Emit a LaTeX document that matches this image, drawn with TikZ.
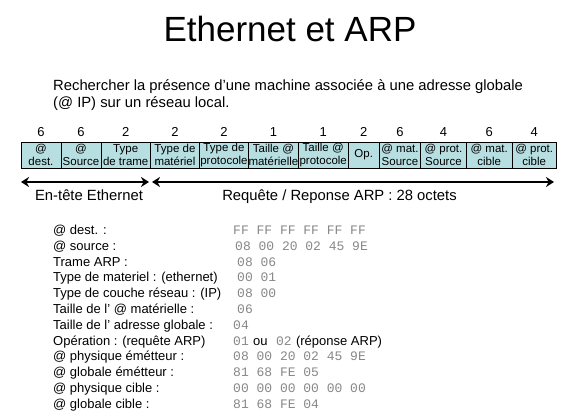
\documentclass[tikz,border=0pt]{standalone}
\usepackage{fontspec}
\setmainfont{Liberation Sans}
\setmonofont{Liberation Mono}
\usetikzlibrary{arrows.meta}
\definecolor{boxfill}{RGB}{183,223,225}
\definecolor{valgray}{RGB}{135,135,135}
\tikzset{
  field/.style={draw=black, line width=0.9pt, fill=boxfill, inner sep=0pt, anchor=north west, align=center, font=\fontsize{11.5}{12.5}\selectfont},
  nlabel/.style={inner sep=0pt, font=\fontsize{13}{15}\selectfont},
  rowlab/.style={inner sep=0pt, anchor=base west, font=\fontsize{13}{15}\selectfont},
  rowval/.style={inner sep=0pt, anchor=base west, text=valgray, font=\fontsize{13}{15}\ttfamily},
  span/.style={line width=2pt, {Stealth[length=8pt,width=10pt]}-{Stealth[length=8pt,width=10pt]}},
  spanlab/.style={inner sep=0pt, anchor=base, font=\fontsize{14.8}{17}\selectfont},
}
\begin{document}
\begin{tikzpicture}[x=1pt,y=-1pt]
\useasboundingbox (0,0) rectangle (579,420);
\node[inner sep=0pt, anchor=base, font=\fontsize{35}{40}\selectfont] (title) at (290,41.5) {Ethernet et ARP};
\node[inner sep=0pt, anchor=north west, align=left, font=\fontsize{14.8}{17}\selectfont] (sub) at (53,79) {Rechercher la présence d’une machine associée à une adresse globale\\(@ IP) sur un réseau local.};
% fields
\def\ftop{141.5}
\def\fh{26}
\foreach \i/\a/\b/\txt/\n in {
  1/20.5/60.5/{@\\dest.}/6,
  2/60.5/100.5/{@\\Source}/6,
  3/100.5/150/{Type\\de trame}/2,
  4/150/199/{Type de\\matériel}/2,
  5/199/248/{Type de\\protocole}/2,
  6/248/298/{Taille @\\matérielle}/1,
  7/298/347.5/{Taille @\\protocole}/1,
  8/347.5/379/{Op.}/2,
  9/379/420/{@ mat.\\Source}/6,
  10/420/466/{@ prot.\\Source}/4,
  11/466/511.5/{@ mat.\\cible}/6,
  12/511.5/556/{@ prot.\\cible}/4}{
  \pgfmathsetmacro\w{\b-\a}
  \node[field, minimum width=\w pt, minimum height=\fh pt] (f\i) at (\a,\ftop) {\txt};
  \node[nlabel, anchor=base] (n\i) at ([yshift=5pt]f\i.north) {\n};
}
% spans
\coordinate (e1) at (21,182);
\coordinate (e2) at (149,182);
\coordinate (r1) at (152,182);
\coordinate (r2) at (554,182);
\draw[span] (e1) -- (e2);
\draw[span] (r1) -- (r2);
\node[spanlab] (eth) at (89,200) {En-tête Ethernet};
\node[spanlab] (arp) at (339.5,200) {Requête / Reponse ARP : 28 octets};
% rows
\foreach \k/\lab/\vx/\val in {
  0/{@ dest. :}/233/{FF FF FF FF FF FF},
  1/{@ source :}/235/{08 00 20 02 45 9E},
  2/{Trame ARP :}/237/{08 06},
  3/{Type de materiel : (ethernet)}/237/{00 01},
  4/{Type de couche réseau : (IP)}/237/{08 00},
  5/{Taille de l’ @ matérielle :}/237/{06},
  6/{Taille de l’ adresse globale :}/233/{04},
  8/{@ physique émétteur :}/233/{08 00 20 02 45 9E},
  9/{@ globale émétteur :}/233/{81 68 FE 05},
  10/{@ physique cible :}/233/{00 00 00 00 00 00},
  11/{@ globale cible :}/233/{81 68 FE 04}}{
  \pgfmathsetmacro\yy{234.5+15.8*\k}
  \node[rowlab] (l\k) at (53,\yy) {\lab};
  \node[rowval] (v\k) at (\vx,\yy) {\val};
}
\pgfmathsetmacro\yy{234.5+15.8*7}
\node[rowlab] (l7) at (53,\yy) {Opération : (requête ARP)};
\node[rowval] (v7) at (233,\yy) {01};
\node[rowlab, anchor=base west] (ou) at ([xshift=4pt]v7.base east) {ou};
\node[rowval] (v7b) at ([xshift=8pt]ou.base east) {02};
\node[rowlab] (rep) at ([xshift=4pt]v7b.base east) {(réponse ARP)};
\end{tikzpicture}
\end{document}
